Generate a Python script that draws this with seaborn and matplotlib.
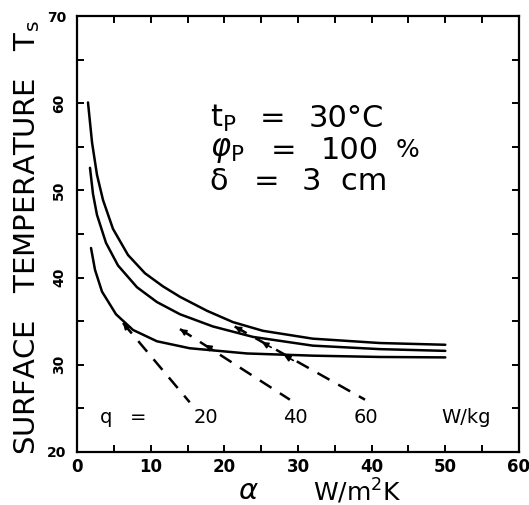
import numpy as np
import pandas as pd
import matplotlib
matplotlib.use("Agg")
import matplotlib.pyplot as plt
import seaborn as sns

# solid curves, one per heat load q (W/kg)
q_levels = [20, 40, 60]
alpha_q20 = [1.9, 2.44, 3.39, 5.29, 7.6, 10.85, 15.3, 23.1, 32.0, 41.1, 50.0]
ts_q20 = [43.4, 40.9, 38.4, 35.8, 34.0, 32.7, 31.9, 31.3, 31.05, 30.9, 30.85]
alpha_q40 = [1.76, 2.17, 2.71, 3.93, 5.56, 8.14, 10.85, 13.98, 18.45, 23.9, 32.0, 41.1, 50.0]
ts_q40 = [52.6, 49.6, 47.2, 44.0, 41.4, 38.9, 37.2, 35.8, 34.4, 33.2, 32.2, 31.8, 31.6]
alpha_q60 = [1.49, 2.04, 2.71, 3.53, 4.88, 6.92, 9.23, 11.67, 13.98, 17.64, 21.17, 25.24, 32.0, 41.1, 50.0]
ts_q60 = [60.1, 55.5, 51.8, 48.9, 45.6, 42.6, 40.5, 39.0, 37.8, 36.2, 34.9, 33.9, 33.0, 32.5, 32.3]

# dashed guide lines (start on curve, end above the q label)
guide_alpha = [[6.24, 15.3], [13.98, 28.9], [21.4, 39.1]]
guide_ts = [[34.8, 25.7], [34.1, 26.0], [34.4, 26.0]]
# arrow tips where the dashed lines meet the curves
arrow_line = [0, 1, 1, 2, 2, 2]
arrow_alpha = [6.24, 13.98, 17.4, 21.4, 25.1, 28.1]
arrow_ts = [34.8, 34.1, 32.3, 34.4, 32.6, 31.1]

q_label_alpha = [17.5, 29.6, 39.2]

curves = pd.concat([
    pd.DataFrame({"alpha": a, "Ts": t, "q": q})
    for a, t, q in zip([alpha_q20, alpha_q40, alpha_q60], [ts_q20, ts_q40, ts_q60], q_levels)
])
guides = pd.concat([
    pd.DataFrame({"alpha": a, "Ts": t, "q": q})
    for a, t, q in zip(guide_alpha, guide_ts, q_levels)
])

sns.set_theme(style="ticks")
plt.rcParams["font.family"] = ["DejaVu Sans"]
plt.rcParams.update({"text.color": "black", "xtick.color": "black",
                     "ytick.color": "black", "axes.labelcolor": "black"})

fig = plt.figure(figsize=(5.29, 5.05), dpi=100)
ax = fig.add_axes([0.1456, 0.105, 0.8354, 0.863])

sns.lineplot(data=curves, x="alpha", y="Ts", units="q", estimator=None,
             color="black", lw=1.8, ax=ax, legend=False)
sns.lineplot(data=guides, x="alpha", y="Ts", units="q", estimator=None,
             color="black", lw=1.8, ax=ax, legend=False)
for line in ax.lines[3:]:
    line.set_linestyle((0, (5.5, 4)))

for i, xa, ya in zip(arrow_line, arrow_alpha, arrow_ts):
    (x0, x1), (y0, y1) = guide_alpha[i], guide_ts[i]
    d = np.array([x1 - x0, y1 - y0])
    d = d / np.hypot(*d)
    ax.annotate("", xy=(xa, ya), xytext=(xa + 1.4 * d[0], ya + 1.4 * d[1]),
                arrowprops=dict(arrowstyle="-|>", color="black", lw=1.2,
                                mutation_scale=9, shrinkA=0, shrinkB=0))

ax.set_xlim(0, 60)
ax.set_ylim(20, 70)
ax.set_xticks(range(0, 61, 10))
ax.set_xticks(range(5, 60, 10), minor=True)
ax.set_yticks(range(20, 71, 10))
ax.set_yticks(range(25, 70, 10), minor=True)
ax.tick_params(which="both", direction="in", length=5, width=1.4,
               top=True, right=True, labelsize=10, colors="black")
ax.tick_params(axis="x", labelsize=12, pad=4)
ax.tick_params(axis="y", pad=8)
for lab in ax.get_xticklabels() + ax.get_yticklabels():
    lab.set_fontweight("bold")
for lab in ax.get_yticklabels():
    if lab.get_text() not in ("20", "70"):
        lab.set_rotation(90)
        lab.set_va("center")
for s in ax.spines.values():
    s.set_linewidth(1.6)
    s.set_color("black")

ax.set_xlabel("")
ax.set_ylabel("")
fig.text(0.052, 0.53, "SURFACE   TEMPERATURE   T$_\\mathregular{s}$", rotation=90,
         ha="center", va="center", fontsize=21)
ax.text(23.2, 15.5, r"$\alpha$", fontsize=21, ha="center", va="center", clip_on=False)
ax.text(32.0, 15.5, "W/m$^\\mathregular{2}$K", fontsize=18, ha="left", va="center", clip_on=False)

# parameter block
rows_y = [58.3, 54.6, 51.0]
ax.text(18.0, rows_y[0], "t$_\\mathregular{P}$", fontsize=22, va="center")
ax.text(18.0, rows_y[1], "$\\varphi_\\mathregular{P}$", fontsize=22, va="center")
ax.text(18.0, rows_y[2], "δ", fontsize=22, va="center")
for xe, ye in zip([24.8, 26.3, 24.0], rows_y):
    ax.text(xe, ye, "=", fontsize=22, va="center")
ax.text(31.5, rows_y[0], "30°C", fontsize=22, va="center")
ax.text(33.1, rows_y[1], "100", fontsize=22, va="center")
ax.text(43.3, rows_y[1], "%", fontsize=18, va="center")
ax.text(30.5, rows_y[2], "3  cm", fontsize=22, va="center")

# q labels
ax.text(3.9, 24.0, "q", fontsize=14, ha="center", va="center")
ax.text(8.3, 24.0, "=", fontsize=14, ha="center", va="center")
for xq, q in zip(q_label_alpha, q_levels):
    ax.text(xq, 24.0, str(q), fontsize=14, ha="center", va="center")
ax.text(52.8, 24.0, "W/kg", fontsize=14, ha="center", va="center")

fig.savefig("out.png", dpi=100)
